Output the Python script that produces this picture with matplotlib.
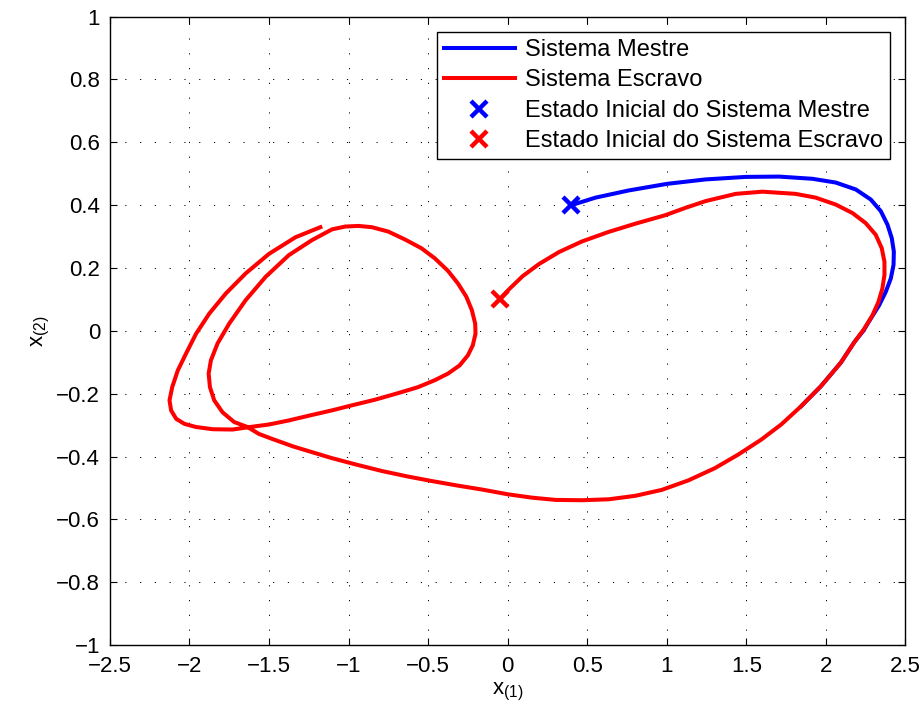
import matplotlib
matplotlib.use('Agg')
import matplotlib.pyplot as plt

plt.rcParams['font.family'] = ['Liberation Sans', 'DejaVu Sans']
plt.rcParams['mathtext.fontset'] = 'custom'
plt.rcParams['mathtext.rm'] = 'Liberation Sans'
plt.rcParams['mathtext.it'] = 'Liberation Sans'

# trajectory of the master system
mestre_x = [0.40, 0.552, 0.762, 1.003, 1.244, 1.496, 1.705, 1.915, 2.062, 2.188,
            2.282, 2.345, 2.387, 2.414, 2.427, 2.425, 2.408, 2.376, 2.334, 2.282,
            2.235, 2.18, 2.094, 1.969, 1.844]
mestre_y = [0.40, 0.424, 0.447, 0.468, 0.482, 0.490, 0.491, 0.484, 0.472, 0.450,
            0.418, 0.381, 0.338, 0.295, 0.252, 0.210, 0.167, 0.124, 0.081, 0.039,
            0.000, -0.035, -0.101, -0.176, -0.240]

# trajectory of the slave system
escravo_x = [-0.05, 0.010, 0.094, 0.198, 0.323, 0.469, 0.635, 0.802, 0.990, 1.12,
             1.244, 1.433, 1.601, 1.81, 1.936, 2.062, 2.167, 2.25, 2.313, 2.351,
             2.368, 2.368, 2.355, 2.330, 2.292, 2.240, 2.18, 2.094, 1.969, 1.844,
             1.719, 1.594, 1.448, 1.302, 1.135, 0.969, 0.802, 0.635, 0.469, 0.302,
             0.156, 0.0, -0.161, -0.319, -0.476, -0.633, -0.79, -0.948, -1.105, -1.347,
             -1.479, -1.563, -1.635, -1.719, -1.792, -1.844, -1.871, -1.879, -1.865, -1.823,
             -1.75, -1.646, -1.521, -1.375, -1.229, -1.104, -1.021, -0.9375, -0.854, -0.75,
             -0.646, -0.542, -0.458, -0.375, -0.3125, -0.26, -0.225, -0.204, -0.202, -0.219,
             -0.25, -0.302, -0.375, -0.458, -0.5625, -0.6875, -0.833, -0.979, -1.104, -1.25,
             -1.375, -1.5, -1.635, -1.729, -1.854, -1.958, -2.031, -2.083, -2.115, -2.125,
             -2.108, -2.073, -2.021, -1.958, -1.875, -1.771, -1.646, -1.5, -1.333, -1.177]
escravo_y = [0.10, 0.133, 0.174, 0.213, 0.251, 0.285, 0.315, 0.341, 0.368, 0.392,
             0.413, 0.436, 0.443, 0.436, 0.424, 0.402, 0.375, 0.343, 0.306, 0.263,
             0.220, 0.178, 0.135, 0.092, 0.049, 0.006, -0.035, -0.101, -0.176, -0.240,
             -0.298, -0.346, -0.394, -0.437, -0.476, -0.506, -0.525, -0.536, -0.539, -0.538,
             -0.531, -0.520, -0.505, -0.492, -0.478, -0.463, -0.446, -0.426, -0.405, -0.368,
             -0.344, -0.328, -0.306, -0.290, -0.259, -0.221, -0.179, -0.136, -0.094, -0.040,
             0.023, 0.098, 0.172, 0.241, 0.289, 0.323, 0.332, 0.334, 0.330, 0.316,
             0.291, 0.263, 0.231, 0.191, 0.151, 0.109, 0.066, 0.023, -0.009, -0.046,
             -0.078, -0.110, -0.136, -0.157, -0.179, -0.198, -0.219, -0.237, -0.253, -0.270,
             -0.285, -0.298, -0.307, -0.314, -0.313, -0.306, -0.296, -0.280, -0.253, -0.221,
             -0.179, -0.126, -0.072, -0.009, 0.055, 0.119, 0.183, 0.245, 0.298, 0.330]

x0_mestre = [0.40]
y0_mestre = [0.40]
x0_escravo = [-0.05]
y0_escravo = [0.10]

xticks = [-2.5, -2, -1.5, -1, -0.5, 0, 0.5, 1, 1.5, 2, 2.5]
yticks = [-1, -0.8, -0.6, -0.4, -0.2, 0, 0.2, 0.4, 0.6, 0.8, 1]

fig = plt.figure(figsize=(9.23, 7.24), dpi=100)
ax = fig.add_axes([0.119, 0.109, 0.862, 0.868])

ax.plot(mestre_x, mestre_y, color='#0000ff', lw=2.9, solid_joinstyle='round',
        label='Sistema Mestre')
ax.plot(escravo_x, escravo_y, color='#ff0000', lw=2.9, solid_joinstyle='round',
        label='Sistema Escravo')
ax.plot(x0_mestre, y0_mestre, 'x', color='#0000ff', ms=11, mew=3.2,
        label='Estado Inicial do Sistema Mestre')
ax.plot(x0_escravo, y0_escravo, 'x', color='#ff0000', ms=11, mew=3.2,
        label='Estado Inicial do Sistema Escravo')

ax.set_xlim(-2.5, 2.5)
ax.set_ylim(-1, 1)
ax.set_xticks(xticks)
ax.set_yticks(yticks)
ax.set_xticklabels([('%g' % t).replace('-', '\u2212') for t in xticks])
ax.set_yticklabels([('%g' % t).replace('-', '\u2212') for t in yticks])
ax.tick_params(direction='in', top=True, right=True, length=5, width=0.8,
               labelsize=16)
ax.tick_params(axis='x', pad=8)
ax.tick_params(axis='y', pad=7)
ax.grid(True, linestyle=(0, (1.2, 14)), color='black', linewidth=0.7)
for s in ax.spines.values():
    s.set_linewidth(1.0)

ax.set_xlabel(r'x$_{\mathrm{(1)}}$', fontsize=16, labelpad=3)
ax.set_ylabel(r'x$_{\mathrm{(2)}}$', fontsize=16, labelpad=3)

leg = ax.legend(loc='upper right', bbox_to_anchor=(0.981, 0.976), fontsize=17,
                handlelength=3.0, labelspacing=0.36, borderpad=0.3,
                handletextpad=0.45, fancybox=False, framealpha=1,
                edgecolor='black', borderaxespad=0)
leg.get_frame().set_linewidth(1.0)

fig.savefig('out.png', dpi=100)
